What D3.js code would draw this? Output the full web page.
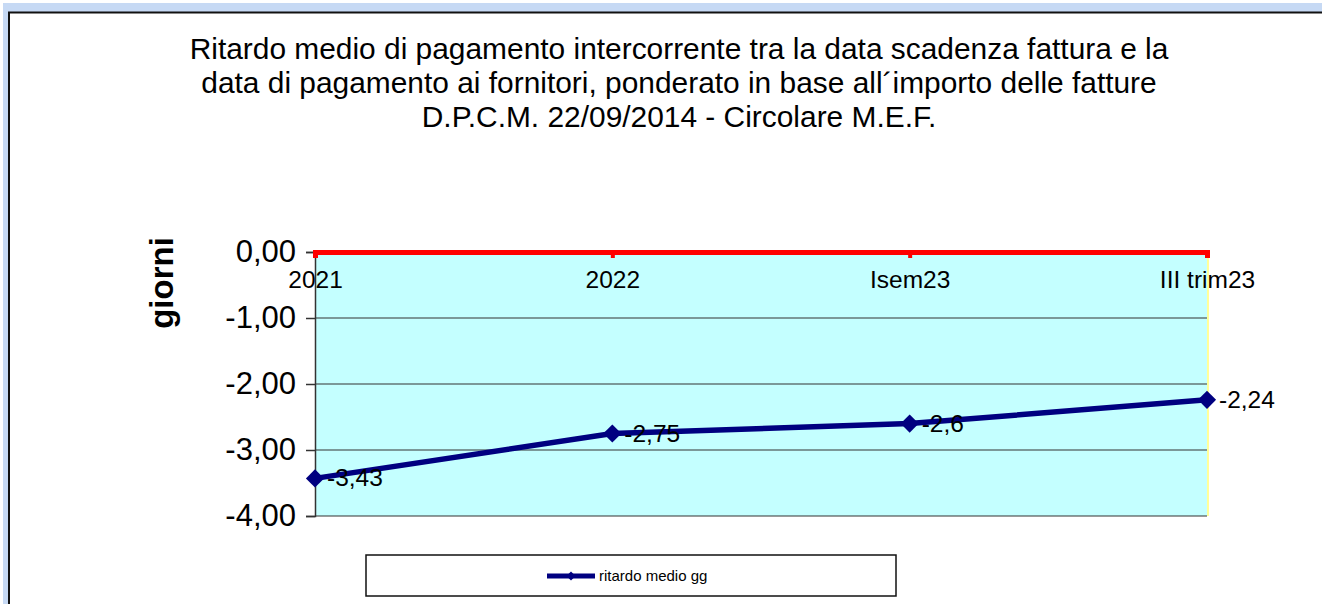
<!DOCTYPE html>
<html>
<head>
<meta charset="utf-8">
<script src="https://cdn.jsdelivr.net/npm/d3@7"></script>
<style>
  body { margin: 0; background: #fff; }
  svg { display: block; font-family: Arial, "Liberation Sans", sans-serif; }
</style>
</head>
<body>
<svg id="chart"></svg>
<script>
"use strict";

var width = 1322,
    height = 604;

var categories = ["2021", "2022", "Isem23", "III trim23"],
    values = [-3.43, -2.75, -2.6, -2.24],
    valueLabels = ["-3,43", "-2,75", "-2,6", "-2,24"],
    yTicks = [0, -1, -2, -3, -4],
    yTickLabels = ["0,00", "-1,00", "-2,00", "-3,00", "-4,00"],
    titleLines = [
        "Ritardo medio di pagamento intercorrente tra la data scadenza fattura e la",
        "data di pagamento ai fornitori, ponderato in base all\u00b4importo delle fatture",
        "D.P.C.M. 22/09/2014 - Circolare M.E.F."
    ],
    seriesName = "ritardo medio gg",
    yTitle = "giorni";

var plot = { left: 315, right: 1207, top: 252, bottom: 516 };
var font = "Arial, 'Liberation Sans', sans-serif";

var svg = d3.select("#chart")
    .attr("width", width)
    .attr("height", height);

// page frame
svg.append("rect").attr("x", 3).attr("y", 3).attr("width", width).attr("height", height)
    .attr("fill", "#c6d9f4");
svg.append("rect").attr("x", 9).attr("y", 12).attr("width", width).attr("height", height)
    .attr("fill", "#fff");
svg.append("path")
    .attr("d", "M9," + height + "V12.5H" + width)
    .attr("fill", "none").attr("stroke", "#111").attr("stroke-width", 2);

// title
svg.append("g").selectAll("text")
    .data(titleLines)
    .enter().append("text")
    .attr("x", 679)
    .attr("y", function (d, i) { return 59 + i * 34; })
    .attr("text-anchor", "middle")
    .attr("font-size", 29.9)
    .attr("fill", "#000")
    .text(function (d) { return d; });

var x = d3.scalePoint().domain(categories).range([plot.left, plot.right]).padding(0);
var y = d3.scaleLinear().domain([-4, 0]).range([plot.bottom, plot.top]);

// plot background
svg.append("rect")
    .attr("x", plot.left).attr("y", plot.top)
    .attr("width", plot.right - plot.left).attr("height", plot.bottom - plot.top)
    .attr("fill", "#c4ffff");
svg.append("line")
    .attr("x1", plot.right + 1).attr("x2", plot.right + 1)
    .attr("y1", plot.top).attr("y2", plot.bottom)
    .attr("stroke", "#ffff99").attr("stroke-width", 2);

// gridlines
svg.append("g").selectAll("line")
    .data(yTicks.filter(function (d) { return d !== 0; }))
    .enter().append("line")
    .attr("x1", plot.left).attr("x2", plot.right)
    .attr("y1", function (d) { return y(d); })
    .attr("y2", function (d) { return y(d); })
    .attr("stroke", "#333").attr("stroke-width", 1.2);

// y axis
var yAxis = svg.append("g")
    .attr("transform", "translate(" + plot.left + ",0)")
    .call(d3.axisLeft(y)
        .tickValues(yTicks)
        .tickSize(9)
        .tickPadding(10)
        .tickFormat(function (d, i) { return yTickLabels[i]; }));
yAxis.select(".domain").attr("stroke", "#333").attr("stroke-width", 1.5);
yAxis.selectAll(".tick line").attr("stroke", "#333").attr("stroke-width", 1.5);
yAxis.selectAll(".tick text").attr("font-size", 31).attr("fill", "#000")
    .attr("font-family", font);

// category axis at zero (red)
var xAxis = svg.append("g")
    .attr("transform", "translate(0," + y(0) + ")")
    .call(d3.axisBottom(x).tickSize(6).tickPadding(13));
xAxis.select(".domain").attr("stroke", "#ff0000").attr("stroke-width", 5);
xAxis.selectAll(".tick line").attr("stroke", "#ff0000").attr("stroke-width", 4);
xAxis.selectAll(".tick text").attr("font-size", 24.5).attr("fill", "#000")
    .attr("font-family", font);

// y title
svg.append("text")
    .attr("transform", "translate(173,283) rotate(-90)")
    .attr("text-anchor", "middle")
    .attr("font-size", 33)
    .attr("font-weight", "bold")
    .text(yTitle);

// series
var data = categories.map(function (c, i) { return { cat: c, v: values[i], label: valueLabels[i] }; });

svg.append("path")
    .datum(data)
    .attr("fill", "none")
    .attr("stroke", "#000080")
    .attr("stroke-width", 5.5)
    .attr("d", d3.line()
        .x(function (d) { return x(d.cat); })
        .y(function (d) { return y(d.v); }));

var diamond = d3.symbol().type(d3.symbolSquare).size(165);

svg.append("g").selectAll("path")
    .data(data)
    .enter().append("path")
    .attr("transform", function (d) { return "translate(" + x(d.cat) + "," + y(d.v) + ") rotate(45)"; })
    .attr("d", diamond)
    .attr("fill", "#000080");

svg.append("g").selectAll("text")
    .data(data)
    .enter().append("text")
    .attr("x", function (d) { return x(d.cat) + 12; })
    .attr("y", function (d) { return y(d.v) + 8; })
    .attr("font-size", 24.5)
    .attr("fill", "#000")
    .text(function (d) { return d.label; });

// legend
var legend = svg.append("g");
legend.append("rect")
    .attr("x", 366).attr("y", 555).attr("width", 530).attr("height", 41)
    .attr("fill", "#fff").attr("stroke", "#111").attr("stroke-width", 1.5);
legend.append("line")
    .attr("x1", 547).attr("x2", 595).attr("y1", 576).attr("y2", 576)
    .attr("stroke", "#000080").attr("stroke-width", 5);
legend.append("path")
    .attr("transform", "translate(571,576) rotate(45)")
    .attr("d", d3.symbol().type(d3.symbolSquare).size(40))
    .attr("fill", "#000080");
legend.append("text")
    .attr("x", 599).attr("y", 581)
    .attr("font-size", 15)
    .text(seriesName);
</script>
</body>
</html>
